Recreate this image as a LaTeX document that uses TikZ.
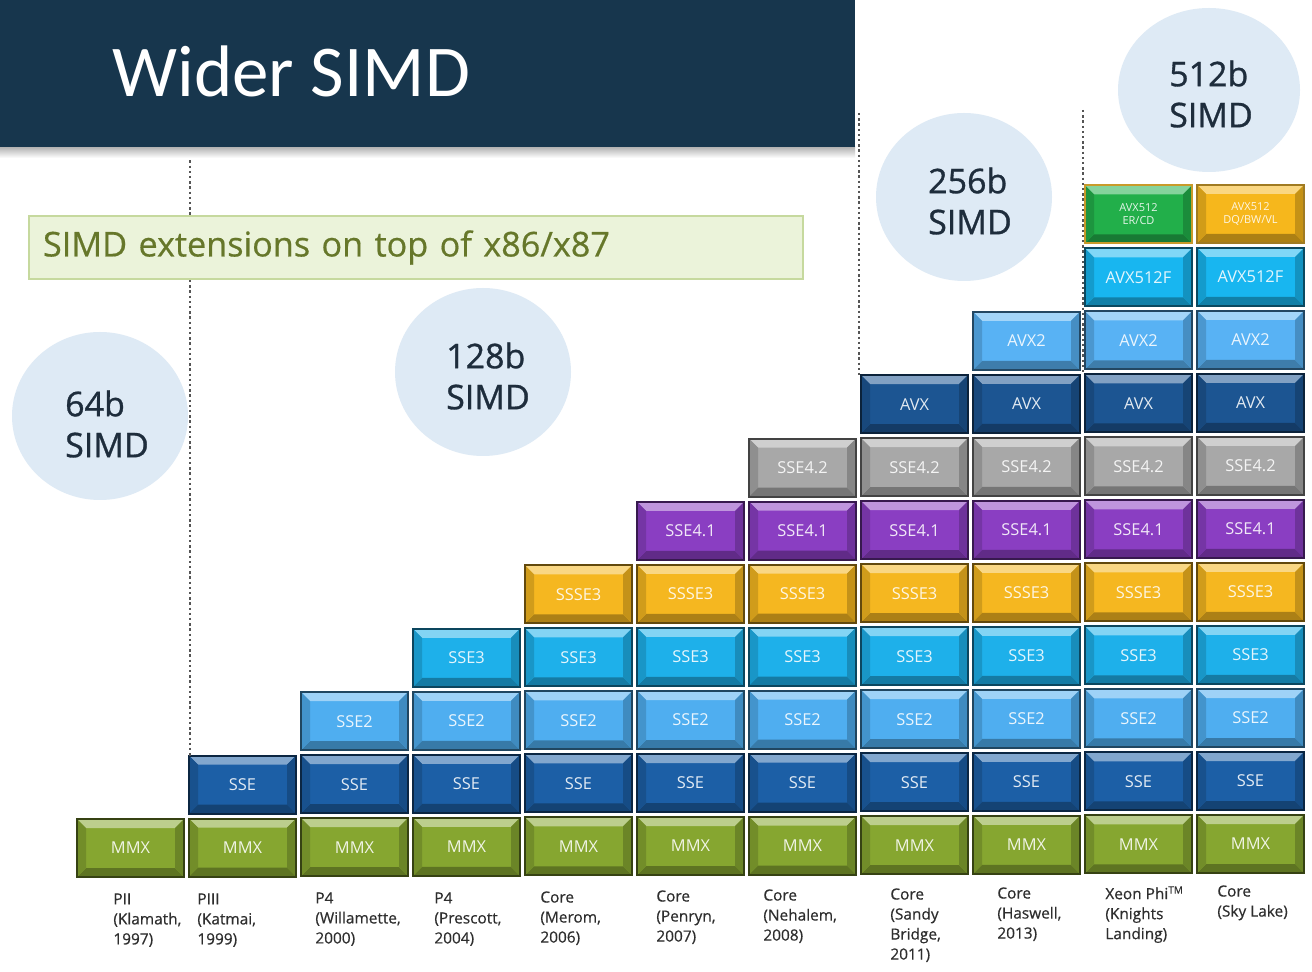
\documentclass[tikz,border=0pt]{standalone}
\usepackage{fontspec}
\setmainfont{Open Sans}
\newfontfamily\headfont{Carlito}
\newfontfamily\medfont[FakeBold=0.9]{Open Sans}
\newfontfamily\lightbold[FakeBold=0.5]{Open Sans}
\usetikzlibrary{shapes.geometric}

\definecolor{headbg}{HTML}{17364D}
\definecolor{bubble}{HTML}{DEEAF5}
\definecolor{bubbletext}{HTML}{1E2D3C}
\definecolor{bannerbg}{HTML}{EBF3DA}
\definecolor{bannerline}{HTML}{C6D99E}
\definecolor{bannertext}{HTML}{66772A}
\definecolor{cputext}{HTML}{2E2E2E}
\definecolor{guide}{HTML}{555555}
\definecolor{cMMX}{HTML}{86A630}
\definecolor{cSSE}{HTML}{1C5FA6}
\definecolor{cSSEii}{HTML}{4FAEF0}
\definecolor{cSSEiii}{HTML}{1EB0EA}
\definecolor{cSSSE}{HTML}{F5B720}
\definecolor{cSSEfi}{HTML}{8A3EC2}
\definecolor{cSSEfii}{HTML}{A8A8A8}
\definecolor{cAVX}{HTML}{1C5592}
\definecolor{cAVXii}{HTML}{58B2F4}
\definecolor{cAVXf}{HTML}{18B6F0}
\definecolor{cERCD}{HTML}{22AF4A}
\definecolor{cDQ}{HTML}{F6B71C}
\definecolor{rimgold}{HTML}{C89A2A}

\tikzset{
  % bevelled instruction-set brick
  brick/.style={
    rectangle, minimum width=53.5pt, minimum height=29pt, inner sep=0pt,
    fill=#1, draw=#1!40!black, line width=1pt,
    text=white, text opacity=0.88, font=\fontsize{8.2}{9}\selectfont,
    path picture={
      \fill[#1!55!white]
        (path picture bounding box.north west) -- (path picture bounding box.north east)
        -- ([shift={(-9,9)}]path picture bounding box.north east)
        -- ([shift={(9,9)}]path picture bounding box.north west) -- cycle;
      \fill[#1!70!black]
        (path picture bounding box.south west) -- (path picture bounding box.south east)
        -- ([shift={(-9,-9)}]path picture bounding box.south east)
        -- ([shift={(9,-9)}]path picture bounding box.south west) -- cycle;
      \fill[#1!85!black]
        (path picture bounding box.north west) -- (path picture bounding box.south west)
        -- ([shift={(9,-9)}]path picture bounding box.south west)
        -- ([shift={(9,9)}]path picture bounding box.north west) -- cycle;
      \fill[#1!80!black]
        (path picture bounding box.north east) -- (path picture bounding box.south east)
        -- ([shift={(-9,-9)}]path picture bounding box.south east)
        -- ([shift={(-9,9)}]path picture bounding box.north east) -- cycle;
    }},
  bubblenode/.style={ellipse, fill=bubble, inner sep=0pt, minimum width=88pt, minimum height=84pt},
  bubblelabel/.style={align=left, text=bubbletext, inner sep=0pt,
    font=\medfont\fontsize{17}{20.5}\selectfont},
  cpu/.style={anchor=north west, align=left, inner sep=0pt, text=cputext,
    font=\lightbold\fontsize{7.7}{10}\selectfont},
  guideline/.style={guide, line width=1pt, dash pattern=on 1.2pt off 1.4pt},
}

\begin{document}
\begin{tikzpicture}[x=0.5pt, y=-0.5pt]
\useasboundingbox (0,0) rectangle (1312,972);
\fill[white] (0,0) rectangle (1312,972);

% width bubbles
\node[bubblenode] (c64)  at (100,416) {};
\node[bubblenode] (c128) at (483,372) {};
\node[bubblenode] (c256) at (964,197) {};
\node[bubblenode, minimum width=91pt, minimum height=82pt] (c512) at (1209,90) {};
\node[bubblelabel] (t64)  at ([xshift=3.5pt,yshift=-4pt]c64.center)  {64b\\SIMD};
\node[bubblelabel] (t128) at ([xshift=2.5pt,yshift=-2pt]c128.center) {128b\\SIMD};
\node[bubblelabel] (t256) at ([xshift=3pt,yshift=-2pt]c256.center) {256b\\SIMD};
\node[bubblelabel] (t512) at ([xshift=1pt,yshift=-2pt]c512.center) {512b\\SIMD};

% instruction-set bricks: row r starts in column r
\foreach \rw/\cl/\lb in {0/cMMX/MMX,1/cSSE/SSE,2/cSSEii/SSE2,3/cSSEiii/SSE3,
    4/cSSSE/SSSE3,5/cSSEfi/SSE4.1,6/cSSEfii/SSE4.2,7/cAVX/AVX,8/cAVXii/AVX2,9/cAVXf/AVX512F}{
  \foreach \kk in {\rw,...,10}{
    \node[brick=\cl] (b\rw-\kk) at ({130.5+112*\kk},{848-63*\rw-0.4*\kk}) {\lb};
  }
}
\node[brick=cERCD, draw=rimgold, align=center, font=\fontsize{5.5}{6.5}\selectfont]
  (b10-9) at ({130.5+112*9},{848-630-3.6}) {AVX512\\ER/CD};
\node[brick=cDQ, draw=rimgold!80!black, align=center, font=\fontsize{5.5}{6.5}\selectfont]
  (b10-10) at ({130.5+112*10},{848-630-4}) {AVX512\\DQ/BW/VL};

% era separators
\draw[guideline] (190,150) -- (190,756);
\draw[guideline] (858.5,113) -- (858.5,376);
\draw[guideline] (1082.5,110) -- (1082.5,374);

% banner
\node[anchor=north west, fill=bannerbg, draw=bannerline, line width=1pt,
      minimum height=31.5pt, inner xsep=7pt, text width=373pt, align=left,
      text=bannertext, font=\lightbold\fontsize{17.1}{18}\selectfont] (ext) at (28,215)
  {SIMD extensions on top of x86/x87};

% processor generations
\node[cpu] (p0)  at (113,893)  {PII\\(Klamath,\\1997)};
\node[cpu] (p1)  at (197,893)  {PIII\\(Katmai,\\1999)};
\node[cpu] (p2)  at (315,892)  {P4\\(Willamette,\\2000)};
\node[cpu] (p3)  at (434,892)  {P4\\(Prescott,\\2004)};
\node[cpu] (p4)  at (540,891)  {Core\\(Merom,\\2006)};
\node[cpu] (p5)  at (656,890)  {Core\\(Penryn,\\2007)};
\node[cpu] (p6)  at (763,889)  {Core\\(Nehalem,\\2008)};
\node[cpu] (p7)  at (890,888)  {Core\\(Sandy\\Bridge,\\2011)};
\node[cpu] (p8)  at (997,887)  {Core\\(Haswell,\\2013)};
\node[cpu] (p9)  at (1105,886) {Xeon Phi\textsuperscript{\tiny TM}\\(Knights\\Landing)};
\node[cpu] (p10) at (1217,885) {Core\\(Sky Lake)};

% title bar
\shade[top color=black!30, bottom color=white] (0,147) rectangle (855,158);
\node[anchor=north west, fill=headbg, inner sep=0pt, minimum width=427.5pt,
      minimum height=73.5pt] (header) at (0,0) {};
\node[anchor=base west, inner sep=0pt, text=white,
      font=\headfont\fontsize{36.5}{40}\selectfont] (title) at (112,97) {Wider SIMD};
\end{tikzpicture}
\end{document}
